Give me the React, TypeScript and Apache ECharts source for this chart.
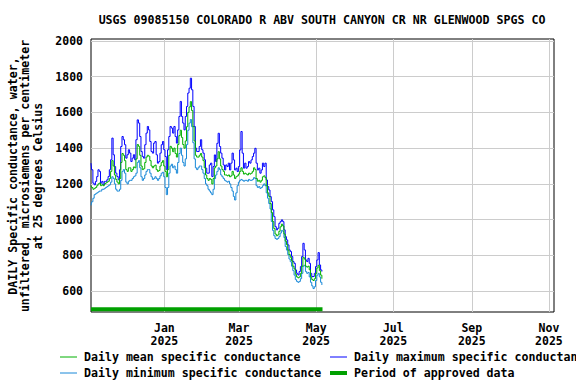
import React, { useEffect, useRef } from "react";
import * as echarts from "echarts";

const TITLE = "USGS 09085150 COLORADO R ABV SOUTH CANYON CR NR GLENWOOD SPGS CO";
const Y_TITLE = "DAILY Specific conductance, water,\nunfiltered, microsiemens per centimeter\nat 25 degrees Celsius";

const START_DATE = "2024-11-04";

const MAX_VALUES = [
  1316, 1279, 1204, 1195, 1214, 1241, 1279, 1270, 1204, 1214,
  1195, 1214, 1214, 1223, 1241, 1279, 1335, 1456, 1363, 1297,
  1260, 1241, 1223, 1279, 1409, 1465, 1447, 1419, 1344, 1363,
  1391, 1372, 1325, 1344, 1363, 1335, 1447, 1558, 1540, 1465,
  1381, 1353, 1344, 1419, 1484, 1521, 1502, 1437, 1381, 1372,
  1428, 1437, 1363, 1316, 1325, 1372, 1419, 1437, 1391, 1353,
  1279, 1391, 1465, 1521, 1512, 1484, 1521, 1465, 1428, 1502,
  1577, 1661, 1577, 1540, 1502, 1577, 1633, 1708, 1735, 1791,
  1726, 1633, 1521, 1400, 1381, 1381, 1409, 1447, 1391, 1372,
  1335, 1288, 1260, 1260, 1306, 1316, 1241, 1297, 1362, 1325,
  1427, 1483, 1409, 1372, 1344, 1306, 1278, 1306, 1297, 1316,
  1278, 1316, 1372, 1334, 1278, 1288, 1269, 1297, 1390, 1493,
  1372, 1288, 1316, 1288, 1297, 1325, 1316, 1334, 1353, 1372,
  1399, 1316, 1278, 1288, 1260, 1278, 1316, 1297, 1316, 1222,
  1185, 1166, 1129, 1101, 1055, 1017, 961, 943, 952, 980,
  989, 999, 989, 943, 905, 887, 859, 831, 822, 794,
  766, 756, 719, 700, 691, 710, 738, 794, 868, 831,
  775, 766, 784, 756, 700, 682, 682, 700, 738, 775,
  816, 747, 719, 710,
];

const MEAN_VALUES = [
  1190, 1180, 1170, 1175, 1180, 1190, 1200, 1205, 1190, 1195,
  1190, 1200, 1205, 1210, 1215, 1230, 1270, 1330, 1300, 1250,
  1225, 1210, 1200, 1230, 1320, 1370, 1360, 1330, 1280, 1270,
  1290, 1290, 1270, 1280, 1295, 1290, 1340, 1420, 1410, 1360,
  1300, 1280, 1285, 1320, 1350, 1360, 1355, 1330, 1300, 1290,
  1300, 1305, 1280, 1270, 1275, 1300, 1320, 1330, 1300, 1270,
  1240, 1280, 1360, 1410, 1400, 1380, 1400, 1370, 1350, 1420,
  1470, 1500, 1460, 1420, 1400, 1440, 1520, 1600, 1630, 1660,
  1610, 1520, 1440, 1360, 1350, 1350, 1360, 1370, 1350, 1330,
  1290, 1250, 1230, 1220, 1230, 1225, 1200, 1230, 1290, 1300,
  1340, 1380, 1340, 1300, 1280, 1270, 1250, 1250, 1245, 1250,
  1240, 1245, 1270, 1250, 1230, 1240, 1245, 1255, 1270, 1290,
  1270, 1255, 1260, 1255, 1250, 1260, 1255, 1260, 1270, 1290,
  1280, 1230, 1215, 1220, 1210, 1220, 1240, 1245, 1235, 1190,
  1150, 1130, 1090, 1040, 990, 950, 920, 910, 915, 935,
  960, 975, 965, 920, 880, 860, 830, 805, 790, 770,
  740, 725, 695, 680, 675, 680, 700, 740, 790, 780,
  740, 735, 740, 720, 680, 665, 660, 670, 700, 730,
  745, 715, 690, 670,
];

const MIN_VALUES = [
  1080, 1100, 1120, 1140, 1145, 1150, 1155, 1160, 1160, 1170,
  1170, 1175, 1180, 1185, 1190, 1195, 1210, 1240, 1230, 1200,
  1170, 1160, 1160, 1170, 1220, 1270, 1280, 1260, 1210, 1200,
  1215, 1220, 1220, 1230, 1240, 1245, 1260, 1320, 1330, 1290,
  1240, 1220, 1230, 1250, 1270, 1280, 1280, 1260, 1240, 1225,
  1230, 1240, 1230, 1220, 1230, 1245, 1260, 1265, 1240, 1180,
  1140, 1180, 1260, 1300, 1310, 1290, 1300, 1280, 1260, 1320,
  1370, 1400, 1360, 1320, 1300, 1340, 1420, 1500, 1540, 1560,
  1520, 1430, 1340, 1290, 1280, 1290, 1300, 1300, 1280, 1260,
  1230, 1200, 1190, 1170, 1160, 1150, 1140, 1170, 1230, 1250,
  1270, 1290, 1280, 1250, 1240, 1230, 1220, 1215, 1210, 1215,
  1200, 1180, 1160, 1130, 1110, 1150, 1190, 1210, 1220, 1225,
  1220, 1215, 1220, 1220, 1215, 1225, 1220, 1220, 1225, 1235,
  1230, 1190, 1180, 1185, 1175, 1180, 1190, 1200, 1190, 1150,
  1120, 1090, 1060, 990, 940, 910, 895, 890, 895, 905,
  925, 940, 935, 900, 850, 830, 805, 780, 765, 740,
  715, 690, 665, 655, 650, 655, 670, 700, 740, 745,
  710, 700, 705, 680, 650, 630, 615, 625, 660, 690,
  700, 680, 650, 635,
];

const APPROVED_VALUE = 500;

const Y_TICKS = [600, 800, 1000, 1200, 1400, 1600, 1800, 2000];
const X_TICK_DATES = ["2025-01-01", "2025-03-01", "2025-05-01", "2025-07-01", "2025-09-01", "2025-11-01"];
const X_TICK_LABELS = ["Jan\n2025", "Mar\n2025", "May\n2025", "Jul\n2025", "Sep\n2025", "Nov\n2025"];
const X_MIN_DATE = "2024-11-04";
const X_MAX_DATE = "2025-11-05";

const SERIES_NAMES = [
  "Daily mean specific conductance",
  "Daily maximum specific conductance",
  "Daily minimum specific conductance",
  "Period of approved data",
];
const SERIES_COLORS = ["#00b000", "#0000ff", "#1888d8", "#00a000"];
const SERIES_WIDTHS = [1, 1, 1, 4];

const DAY = 86400000;
const ts = (s: string) => Date.parse(s + "T00:00:00Z");

const FONT = "DejaVu Sans Mono";

export default function App() {
  const ref = useRef<HTMLDivElement>(null);

  useEffect(() => {
    if (!ref.current) return;
    const chart = echarts.init(ref.current, null, { renderer: "svg" });
    const start = ts(START_DATE);
    const toPairs = (arr: number[]) => arr.map((v, i) => [start + i * DAY, v]);
    const tickTs = X_TICK_DATES.map(ts);
    const lastTs = start + (MAX_VALUES.length - 1) * DAY;

    // legend layout: order mean, max (row 1), min, approved (row 2)
    const legendSlots = [
      { idx: 0, x: 60, y: 357 },
      { idx: 1, x: 330, y: 357 },
      { idx: 2, x: 60, y: 373 },
      { idx: 3, x: 330, y: 373 },
    ];
    const legendGraphics: any[] = [];
    legendSlots.forEach((s) => {
      legendGraphics.push({
        type: "line",
        shape: { x1: s.x, y1: s.y, x2: s.x + 17, y2: s.y },
        style: { stroke: SERIES_COLORS[s.idx], lineWidth: SERIES_WIDTHS[s.idx] },
      });
      legendGraphics.push({
        type: "text",
        x: s.x + 24,
        y: s.y,
        style: {
          text: SERIES_NAMES[s.idx],
          font: `bold 11.6px "${FONT}"`,
          fill: "#000",
          textAlign: "left",
          textVerticalAlign: "middle",
        },
      });
    });

    const lineSeries = (i: number, values: number[], z: number) => ({
      name: SERIES_NAMES[i],
      type: "line",
      data: toPairs(values),
      symbol: "none",
      step: "middle",
      lineStyle: { color: SERIES_COLORS[i], width: SERIES_WIDTHS[i] },
      itemStyle: { color: SERIES_COLORS[i] },
      z,
    });

    const option: any = {
      animation: false,
      backgroundColor: "#ffffff",
      textStyle: { fontFamily: FONT },
      grid: {
        left: 91,
        right: 22,
        top: 39,
        bottom: 72,
        show: true,
        borderColor: "#000000",
        borderWidth: 1,
        backgroundColor: "transparent",
      },
      graphic: [
        {
          type: "text",
          x: 322,
          y: 20,
          style: {
            text: TITLE,
            font: `bold 11.6px "${FONT}"`,
            fill: "#000",
            textAlign: "center",
            textVerticalAlign: "middle",
          },
        },
        {
          type: "text",
          x: 25,
          y: 176,
          rotation: Math.PI / 2,
          style: {
            text: Y_TITLE,
            font: `bold 11.6px "${FONT}"`,
            fill: "#000",
            textAlign: "center",
            textVerticalAlign: "middle",
            lineHeight: 12.5,
          },
        },
        ...legendGraphics,
      ],
      xAxis: {
        type: "value",
        min: ts(X_MIN_DATE),
        max: ts(X_MAX_DATE),
        axisLine: { show: false },
        axisTick: { show: false, customValues: tickTs },
        axisLabel: {
          customValues: tickTs,
          margin: 9,
          fontFamily: FONT,
          fontWeight: "bold",
          fontSize: 11.5,
          lineHeight: 13,
          color: "#000",
          formatter: (v: number) => {
            const i = tickTs.indexOf(v);
            return i >= 0 ? X_TICK_LABELS[i] : "";
          },
        },
        splitLine: { show: true, lineStyle: { color: "#cccccc", width: 1 } },
      },
      yAxis: {
        type: "value",
        min: 484,
        max: 2010,
        axisLine: { show: false },
        axisTick: { show: false, customValues: Y_TICKS },
        axisLabel: {
          customValues: Y_TICKS,
          margin: 8,
          fontFamily: FONT,
          fontWeight: "bold",
          fontSize: 11.5,
          color: "#000",
          formatter: (v: number) => String(v),
        },
        splitLine: { show: true, lineStyle: { color: "#cccccc", width: 1 } },
      },
      series: [
        lineSeries(0, MEAN_VALUES, 3),
        lineSeries(1, MAX_VALUES, 2),
        lineSeries(2, MIN_VALUES, 2),
        {
          name: SERIES_NAMES[3],
          type: "line",
          data: [
            [start, APPROVED_VALUE],
            [lastTs, APPROVED_VALUE],
          ],
          symbol: "none",
          lineStyle: { color: SERIES_COLORS[3], width: SERIES_WIDTHS[3] },
          itemStyle: { color: SERIES_COLORS[3] },
          z: 4,
        },
      ],
    };
    chart.setOption(option);
    return () => chart.dispose();
  }, []);

  return <div ref={ref} style={{ width: 576, height: 384, position: "absolute", left: 0, top: 0 }} />;
}
